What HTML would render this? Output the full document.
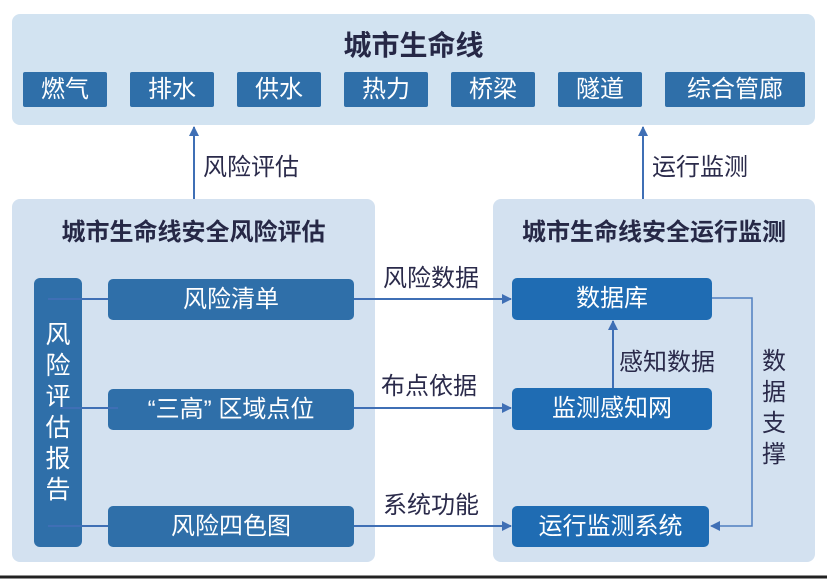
<!DOCTYPE html>
<html><head><meta charset="utf-8"><style>
body{margin:0;width:827px;height:579px;background:#fff;position:relative;overflow:hidden;font-family:"Liberation Sans","Noto Sans CJK SC",sans-serif}
.a{position:absolute}
.panel{background:#d3e1f0;border-radius:8px}
.b{position:absolute;background:#2f6fa9;color:#fff;text-align:center;font-size:24px;border-radius:5px}
.r{background:#1f6cb3}
.t{position:absolute;color:#2a2a4a;font-size:24px;white-space:nowrap}
.h{position:absolute;color:#262846;font-weight:bold;font-size:24px;white-space:nowrap}
</style></head><body>
<div class="a panel" style="left:12px;top:14px;width:803px;height:111px;background:#d2e3f1"></div>
<div class="h" style="left:0;width:827px;text-align:center;top:24px;font-size:28px">城市生命线</div>
<div class="b" style="left:23px;top:72px;width:84px;height:35px;line-height:35px;border-radius:2px">燃气</div>
<div class="b" style="left:130px;top:72px;width:84px;height:35px;line-height:35px;border-radius:2px">排水</div>
<div class="b" style="left:237px;top:72px;width:84px;height:35px;line-height:35px;border-radius:2px">供水</div>
<div class="b" style="left:344px;top:72px;width:84px;height:35px;line-height:35px;border-radius:2px">热力</div>
<div class="b" style="left:451px;top:72px;width:84px;height:35px;line-height:35px;border-radius:2px">桥梁</div>
<div class="b" style="left:558px;top:72px;width:84px;height:35px;line-height:35px;border-radius:2px">隧道</div>
<div class="b" style="left:665px;top:72px;width:140px;height:35px;line-height:35px;border-radius:2px">综合管廊</div>

<div class="a panel" style="left:12px;top:199px;width:363px;height:363px"></div>
<div class="a panel" style="left:493px;top:199px;width:322px;height:363px"></div>
<div class="h" style="left:12px;width:363px;text-align:center;top:212px">城市生命线安全风险评估</div>
<div class="h" style="left:493px;width:322px;text-align:center;top:212px">城市生命线安全运行监测</div>

<div class="b" style="left:34px;top:278px;width:48px;height:269px;border-radius:6px"></div>
<div class="a" style="left:34px;top:320px;width:48px;color:#fff;font-size:25px;line-height:31px;text-align:center">风<br>险<br>评<br>估<br>报<br>告</div>
<div class="b" style="left:108px;top:279px;width:246px;height:41px;line-height:41px">风险清单</div>
<div class="b" style="left:108px;top:389px;width:246px;height:41px;line-height:41px">“三高” 区域点位</div>
<div class="b" style="left:108px;top:506px;width:246px;height:41px;line-height:41px">风险四色图</div>
<div class="b r" style="left:512px;top:278px;width:200px;height:42px;line-height:42px">数据库</div>
<div class="b r" style="left:512px;top:388px;width:200px;height:42px;line-height:42px">监测感知网</div>
<div class="b r" style="left:512px;top:506px;width:197px;height:41px;line-height:41px">运行监测系统</div>

<svg class="a" style="left:0;top:0" width="827" height="579">
<defs><marker id="m" markerWidth="10" markerHeight="10" refX="9" refY="5" orient="auto" markerUnits="userSpaceOnUse"><path d="M0,0L10,5L0,10z" fill="#3f6fb5"/></marker></defs>
<g stroke="#3f6fb5" stroke-width="2" fill="none">
<line x1="194" y1="199" x2="194" y2="127" marker-end="url(#m)"/>
<line x1="643" y1="199" x2="643" y2="127" marker-end="url(#m)"/>
<line x1="354" y1="299" x2="511" y2="299" marker-end="url(#m)"/>
<line x1="354" y1="408" x2="511" y2="408" marker-end="url(#m)"/>
<line x1="354" y1="526" x2="511" y2="526" marker-end="url(#m)"/>
<line x1="613" y1="388" x2="613" y2="321" marker-end="url(#m)"/>
<line x1="48" y1="299" x2="108" y2="299"/>
<line x1="60" y1="408" x2="118" y2="408"/>
<line x1="48" y1="526" x2="108" y2="526"/>
</g>
<polyline points="712,298 752,298 752,526 711,526" stroke="#4f7fc0" stroke-width="1.5" fill="none" marker-end="url(#m)"/>
<line x1="0" y1="577" x2="827" y2="577" stroke="#222" stroke-width="3"/>
</svg>
<div class="t" style="left:203px;top:147px">风险评估</div>
<div class="t" style="left:652px;top:147px">运行监测</div>
<div class="t" style="left:383px;top:258px">风险数据</div>
<div class="t" style="left:381px;top:366px">布点依据</div>
<div class="t" style="left:383px;top:485px">系统功能</div>
<div class="t" style="left:619px;top:342px">感知数据</div>
<div class="t" style="left:762px;top:346px;line-height:31px">数<br>据<br>支<br>撑</div>
</body></html>
